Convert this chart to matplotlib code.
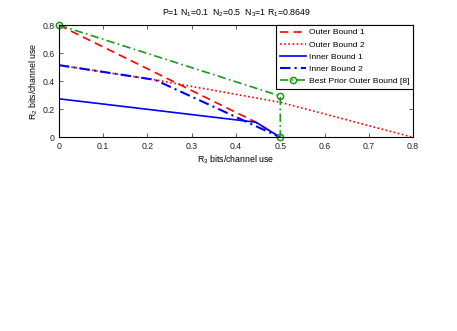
import matplotlib
matplotlib.use("Agg")
import matplotlib.pyplot as plt

plt.rcParams['font.family'] = ['Liberation Sans', 'DejaVu Sans']
plt.rcParams['mathtext.fontset'] = 'custom'
plt.rcParams['mathtext.rm'] = 'Liberation Sans'
plt.rcParams['mathtext.it'] = 'Liberation Sans'

# Data
ob1_x = [0.0, 0.443, 0.5]
ob1_y = [0.8, 0.111, 0.0]
ob2_x = [0.0, 0.217, 0.5, 0.8]
ob2_y = [0.515, 0.41, 0.25, 0.0]
ib1_x = [0.0, 0.445, 0.5]
ib1_y = [0.275, 0.108, 0.0]
ib2_x = [0.0, 0.217, 0.5]
ib2_y = [0.515, 0.41, 0.0]
bp_x = [0.0, 0.5, 0.5]
bp_y = [0.8, 0.295, 0.0]

xticks = [0, 0.1, 0.2, 0.3, 0.4, 0.5, 0.6, 0.7, 0.8]
xticklabels = ['0', '0.1', '0.2', '0.3', '0.4', '0.5', '0.6', '0.7', '0.8']
yticks = [0, 0.2, 0.4, 0.6, 0.8]
yticklabels = ['0', '0.2', '0.4', '0.6', '0.8']

fig = plt.figure(figsize=(4.57, 3.31), dpi=100)
ax = fig.add_axes([0.129, 0.585, 0.775, 0.339])

green = (0.1, 0.6, 0.1)
ax.plot(ob1_x, ob1_y, color='red', linestyle=(0, (5, 3)), lw=1.2, label='Outer Bound 1')
ax.plot(ob2_x, ob2_y, color='red', linestyle=(0, (1, 1.5)), lw=1.2, label='Outer Bound 2')
ax.plot(ib1_x, ib1_y, color='blue', linestyle='-', lw=1.2, label='Inner Bound 1')
ax.plot(ib2_x, ib2_y, color='blue', linestyle=(0, (5, 2, 1, 2)), lw=1.5, label='Inner Bound 2')
ax.plot(bp_x, bp_y, color=green, linestyle=(0, (5, 2, 1, 2)), lw=1.2, marker='o',
        markersize=4.5, markerfacecolor='none', markeredgecolor=green, markeredgewidth=1.1,
        label='Best Prior Outer Bound [8]', clip_on=False)

ax.set_xlim(0, 0.8)
ax.set_ylim(0, 0.8)
ax.set_xticks(xticks)
ax.set_xticklabels(xticklabels)
ax.set_yticks(yticks)
ax.set_yticklabels(yticklabels)
ax.tick_params(direction='in', length=3, width=0.5, labelsize=6.3, top=True, right=True, pad=3,
               colors='#222222')
for s in ax.spines.values():
    s.set_linewidth(0.8)

ax.set_title('P=1 N$_1$=0.1  N$_2$=0.5  N$_3$=1 R$_1$=0.8649', fontsize=6.3, pad=7)
ax.set_xlabel('R$_3$ bits/channel use', fontsize=6.3, labelpad=2)
ax.set_ylabel('R$_2$ bits/channel use', fontsize=6.3, labelpad=2)

leg = ax.legend(loc='upper right', fontsize=6.1, fancybox=False, edgecolor='black',
                borderaxespad=0.0, handlelength=3.1, framealpha=1, borderpad=0.4,
                labelspacing=0.5, handletextpad=0.4)
leg.get_frame().set_linewidth(0.8)

fig.savefig('out.png', dpi=100)
